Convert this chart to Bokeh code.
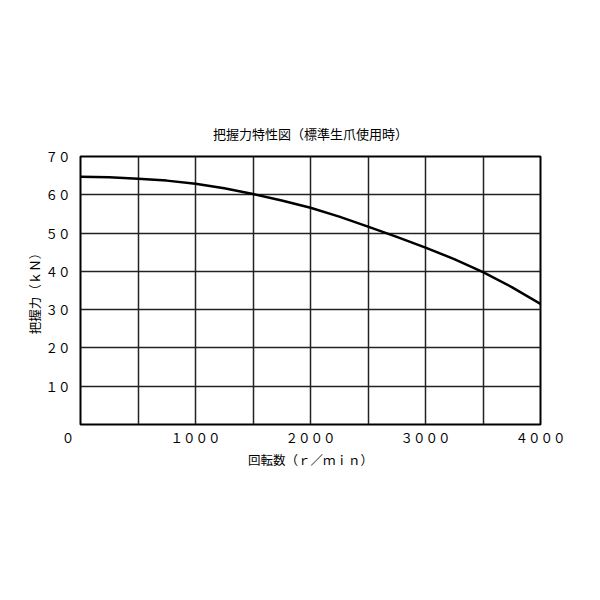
from bokeh.plotting import figure
from bokeh.models import FixedTicker, Range1d
from bokeh.embed import file_html
from bokeh.resources import INLINE

# data
speed = [0, 250, 500, 750, 1000, 1250, 1500, 1750, 2000, 2250, 2500, 2750, 3000, 3250, 3500, 3750, 4000]
force = [64.7, 64.6, 64.2, 63.7, 62.9, 61.7, 60.2, 58.5, 56.6, 54.3, 51.7, 49.0, 46.2, 43.2, 39.8, 35.9, 31.5]

x_ticks = [0, 1000, 2000, 3000, 4000]
x_tick_labels = ["０　　", "１０００", "２０００", "３０００", "４０００"]
y_ticks = [10, 20, 30, 40, 50, 60, 70]
y_tick_labels = ["１０", "２０", "３０", "４０", "５０", "６０", "７０"]
x_grid = [500, 1000, 1500, 2000, 2500, 3000, 3500]
y_grid = [10, 20, 30, 40, 50, 60]

title_text = "把握力特性図（標準生爪使用時）"
x_title = "回転数（ｒ／ｍｉｎ）"
y_title = "把握力（ｋＮ）"

FONT = "Noto Sans CJK JP"

p = figure(width=592, height=592, output_backend="svg", toolbar_location=None,
           x_range=Range1d(0, 4000), y_range=Range1d(0, 70),
           min_border_left=80, min_border_right=52, min_border_top=156, min_border_bottom=168,
           title=title_text)

p.title.align = "center"
p.title.text_font = FONT
p.title.text_font_size = "13px"
p.title.text_font_style = "normal"
p.title.text_color = "black"
p.title.standoff = 27

p.outline_line_color = "black"
p.outline_line_width = 2
p.outline_line_alpha = 1

p.line(speed, force, line_color="black", line_width=2.5)

p.xgrid.ticker = FixedTicker(ticks=x_grid)
p.ygrid.ticker = FixedTicker(ticks=y_grid)
for g in (p.xgrid, p.ygrid):
    g.grid_line_color = "#222222"
    g.grid_line_width = 1.5
    g.grid_line_alpha = 1

p.xaxis.ticker = FixedTicker(ticks=x_ticks)
p.xaxis.major_label_overrides = dict(zip(x_ticks, x_tick_labels))
p.yaxis.ticker = FixedTicker(ticks=y_ticks)
p.yaxis.major_label_overrides = dict(zip(y_ticks, y_tick_labels))

p.xaxis.axis_label = x_title
p.yaxis.axis_label = y_title

for ax in (p.xaxis, p.yaxis):
    ax.axis_line_color = None
    ax.major_tick_line_color = None
    ax.minor_tick_line_color = None
    ax.major_label_text_font = FONT
    ax.major_label_text_font_size = "12.5px"
    ax.major_label_text_color = "black"
    ax.axis_label_text_font = FONT
    ax.axis_label_text_font_size = "12.5px"
    ax.axis_label_text_font_style = "normal"
    ax.axis_label_text_color = "black"

p.xaxis.major_label_standoff = -3
p.xaxis.axis_label_standoff = 0
p.yaxis.major_label_standoff = 4
p.yaxis.axis_label_standoff = -2

open("out.html", "w").write(file_html(p, INLINE))
